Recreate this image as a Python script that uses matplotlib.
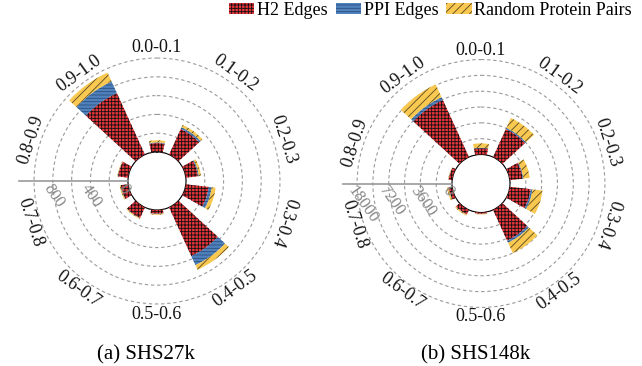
"""Polar stacked bars of edge-score distribution for SHS27k and SHS148k."""

import matplotlib
matplotlib.use("Agg")
import matplotlib.pyplot as plt
import numpy as np
from matplotlib.patches import Patch

plt.rcParams["font.family"] = ["Liberation Serif", "DejaVu Serif"]
plt.rcParams["hatch.linewidth"] = 0.6

bins = ["0.0-0.1", "0.1-0.2", "0.2-0.3", "0.3-0.4", "0.4-0.5",
        "0.5-0.6", "0.6-0.7", "0.7-0.8", "0.8-0.9", "0.9-1.0"]

# SHS27k
h2_27k = [95, 300, 130, 245, 570, 40, 124, 78, 108, 720]
ppi_27k = [8, 20, 10, 32, 105, 3, 3, 3, 3, 135]
rand_27k = [22, 28, 22, 42, 55, 8, 8, 10, 5, 105]
ticks_27k = [0, 200, 400, 600, 800, 1000]
ticklabels_27k = ["0", "", "400", "", "800", ""]
rmax_27k = 1160

# SHS148k
h2_148k = [720, 3500, 1470, 2390, 3850, 150, 560, 400, 400, 7150]
ppi_148k = [50, 150, 80, 200, 250, 20, 30, 30, 15, 340]
rand_148k = [500, 1240, 720, 1150, 1300, 50, 120, 170, 40, 1600]
ticks_148k = [0, 1800, 3600, 5400, 7200, 9000, 10800]
ticklabels_148k = ["0", "", "3600", "", "7200", "", "18000"]
rmax_148k = 12400

label_rot = [0, -36, -72, -108, 36, 0, -36, -72, 72, 36]

RED, BLUE, YELLOW = "#e8353b", "#4f81bd", "#f8c850"
HATCH_RED, HATCH_BLUE, HATCH_YEL = "#111111", "#2c4f7c", "#5a4a20"


def draw(ax, h2, ppi, rnd, ticks, ticklabels, rmax):
    n = len(bins)
    theta = np.arange(n) * 2 * np.pi / n
    width = 0.4
    hole = 29 / 109 * rmax

    ax.set_theta_zero_location("N")
    ax.set_theta_direction(-1)
    ax.set_ylim(0, rmax)
    ax.set_rorigin(-hole)

    h2 = np.array(h2)
    ppi = np.array(ppi)
    rnd = np.array(rnd)
    ax.bar(theta, h2, width=width, color=RED, edgecolor=HATCH_RED,
           linewidth=0, hatch="+++++", zorder=3)
    ax.bar(theta, ppi, width=width, bottom=h2, color=BLUE, edgecolor=HATCH_BLUE,
           linewidth=0, hatch="-----", zorder=3)
    ax.bar(theta, rnd, width=width, bottom=h2 + ppi, color=YELLOW,
           edgecolor=HATCH_YEL, linewidth=0, hatch="////", zorder=3)

    ax.set_xticks([])
    ax.set_yticks(ticks)
    ax.set_yticklabels([])
    ax.grid(False, axis="x")
    ax.grid(True, axis="y", color="#9a9a9a", linestyle=(0, (3, 2.5)), linewidth=0.8)
    ax.spines["polar"].set_visible(False)
    ax.spines["inner"].set_visible(False)
    ax.set_facecolor("none")

    # radial axis line on the left
    ax.plot([1.5 * np.pi, 1.5 * np.pi], [0, rmax], color="#999999", lw=1.2,
            zorder=4, clip_on=False)
    for t, lab in zip(ticks, ticklabels):
        if lab:
            ax.text(1.5 * np.pi, t, lab, rotation=-55, rotation_mode="anchor",
                    ha="left", va="top", fontsize=12, color="#858585", zorder=5,
                    clip_on=False)

    for th, lab, rot in zip(theta, bins, label_rot):
        ax.text(th, 0.955 * rmax, lab, rotation=rot, rotation_mode="anchor",
                ha="center", va="center", fontsize=13, color="#111111")


fig = plt.figure(figsize=(6.42, 3.66), dpi=100, facecolor="white")
ax1 = fig.add_axes([19 / 642, (366 - 181 - 138) / 366, 276 / 642, 276 / 366],
                   projection="polar")
ax2 = fig.add_axes([343 / 642, (366 - 183.5 - 138) / 366, 276 / 642, 276 / 366],
                   projection="polar")

draw(ax1, h2_27k, ppi_27k, rand_27k, ticks_27k, ticklabels_27k, rmax_27k)
draw(ax2, h2_148k, ppi_148k, rand_148k, ticks_148k, ticklabels_148k, rmax_148k)

fig.text(146 / 642, 1 - 355 / 366, "(a) SHS27k", ha="center", va="center", fontsize=15)
fig.text(476 / 642, 1 - 355 / 366, "(b) SHS148k", ha="center", va="center", fontsize=15)

handles = [
    Patch(facecolor=RED, edgecolor=HATCH_RED, linewidth=0, hatch="+++++", label="H2 Edges"),
    Patch(facecolor=BLUE, edgecolor=HATCH_BLUE, linewidth=0, hatch="-----", label="PPI Edges"),
    Patch(facecolor=YELLOW, edgecolor=HATCH_YEL, linewidth=0, hatch="////",
          label="Random Protein Pairs"),
]
fig.legend(handles=handles, loc="upper right", bbox_to_anchor=(632 / 642, 1 - 2 / 366),
           borderaxespad=0, borderpad=0, ncol=3, frameon=False, fontsize=13,
           handlelength=1.4, handleheight=0.5, columnspacing=0.45, handletextpad=0.15)

fig.savefig("out.png", dpi=100, facecolor="white")
